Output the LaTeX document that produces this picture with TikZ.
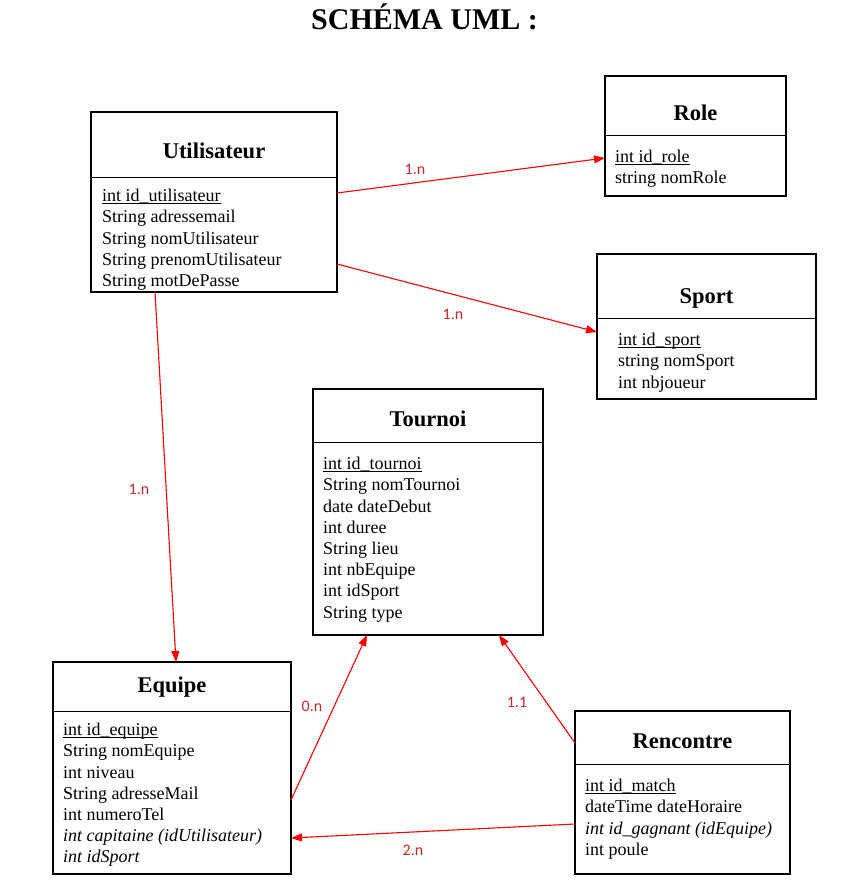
\documentclass[tikz,border=0pt]{standalone}
\usepackage{fontspec}
\setmainfont{Liberation Serif}
\newfontfamily\labelfont{Carlito}
\usetikzlibrary{arrows.meta}
\definecolor{assocred}{RGB}{255,0,0}
\definecolor{labelred}{RGB}{200,40,40}
\tikzstyle{umlbox} = [draw, line width=1.1pt, anchor=north west, inner sep=0pt, outer sep=0pt]
\tikzstyle{umltitle} = [anchor=base, inner sep=0pt, font=\fontsize{22.5}{27}\selectfont\bfseries]
\tikzstyle{umlattr} = [anchor=north west, inner sep=0pt, align=left, font=\fontsize{18}{21.2}\selectfont]
\tikzstyle{assoc} = [->, draw=assocred, line width=1.1pt]
\tikzstyle{card} = [text=labelred, font=\labelfont\fontsize{16}{19}\selectfont]
\newcommand{\pkey}[1]{\setbox0\hbox{#1}\rlap{\rule[-2pt]{\wd0}{0.9pt}}\box0}

\begin{document}
\begin{tikzpicture}[x=1pt, y=-1pt, >={Triangle[length=11pt,width=8pt]}]
\useasboundingbox (0,0) rectangle (864,884);
   \node (Title) at (424.5,29.3) [anchor=base, inner sep=0pt, font=\fontsize{30}{36}\selectfont\bfseries] {SCHÉMA UML :};

   % Utilisateur
   \node (Utilisateur) at (91,112) [umlbox, minimum width=246pt, minimum height=180pt] {};
   \draw[line width=1pt] (Utilisateur.west |- 0,177) -- (Utilisateur.east |- 0,177);
   \node (UtilisateurTitle) at (214,158) [umltitle] {Utilisateur};
   \node (UtilisateurAttr) at (102,189) [umlattr] {\pkey{int id\_utilisateur}\\ String adressemail\\ String nomUtilisateur\\ String prenomUtilisateur\\ String motDePasse};

   % Role
   \node (Role) at (605,76) [umlbox, minimum width=181pt, minimum height=120pt] {};
   \draw[line width=1pt] (Role.west |- 0,135.5) -- (Role.east |- 0,135.5);
   \node (RoleTitle) at (695.5,120) [umltitle] {Role};
   \node (RoleAttr) at (615,150) [umlattr] {\pkey{int id\_role}\\ string nomRole};

   % Sport
   \node (Sport) at (597,254) [umlbox, minimum width=219pt, minimum height=145pt] {};
   \draw[line width=1pt] (Sport.west |- 0,318) -- (Sport.east |- 0,318);
   \node (SportTitle) at (706.5,303) [umltitle] {Sport};
   \node (SportAttr) at (618,333) [umlattr] {\pkey{int id\_sport}\\ string nomSport\\ int nbjoueur};

   % Tournoi
   \node (Tournoi) at (313,389) [umlbox, minimum width=230pt, minimum height=246pt] {};
   \draw[line width=1pt] (Tournoi.west |- 0,442) -- (Tournoi.east |- 0,442);
   \node (TournoiTitle) at (428,426) [umltitle] {Tournoi};
   \node (TournoiAttr) at (323,457) [umlattr] {\pkey{int id\_tournoi}\\ String nomTournoi\\ date dateDebut\\ int duree\\ String lieu\\ int nbEquipe\\ int idSport\\ String type};

   % Equipe
   \node (Equipe) at (53,662) [umlbox, minimum width=238pt, minimum height=212pt] {};
   \draw[line width=1pt] (Equipe.west |- 0,711) -- (Equipe.east |- 0,711);
   \node (EquipeTitle) at (172,692) [umltitle] {Equipe};
   \node (EquipeAttr) at (63,723) [umlattr] {\pkey{int id\_equipe}\\ String nomEquipe\\ int niveau\\ String adresseMail\\ int numeroTel\\ \textit{int capitaine (idUtilisateur)}\\ \textit{int idSport}};

   % Rencontre
   \node (Rencontre) at (575,711) [umlbox, minimum width=215pt, minimum height=163pt] {};
   \draw[line width=1pt] (Rencontre.west |- 0,764) -- (Rencontre.east |- 0,764);
   \node (RencontreTitle) at (682.5,748) [umltitle] {Rencontre};
   \node (RencontreAttr) at (585,779) [umlattr] {\pkey{int id\_match}\\ dateTime dateHoraire\\ \textit{int id\_gagnant (idEquipe)}\\ int poule};

   % associations
   \draw[assoc] (Utilisateur.east |- 0,193) -- (Role.west |- 0,158);
   \draw[assoc] (Utilisateur.east |- 0,264) -- (Sport.west |- 0,332);
   \draw[assoc] (Utilisateur.south -| 155,0) -- (Equipe.north -| 176,0);
   \draw[assoc] (Equipe.east |- 0,800) -- (Tournoi.south -| 367,0);
   \draw[assoc] (Rencontre.west |- 0,743) -- (Tournoi.south -| 499,0);
   \draw[assoc] (Rencontre.west |- 0,824) -- (Equipe.east |- 0,838);

   \node (CardRole) at (415,169) [card] {1.n};
   \node (CardSport) at (453,314) [card] {1.n};
   \node (CardEquipe) at (139,489) [card] {1.n};
   \node (CardTournoiEquipe) at (312,706) [card] {0.n};
   \node (CardTournoiRencontre) at (517,702) [card] {1.1};
   \node (CardRencontre) at (413,850) [card] {2.n};
\end{tikzpicture}
\end{document}
